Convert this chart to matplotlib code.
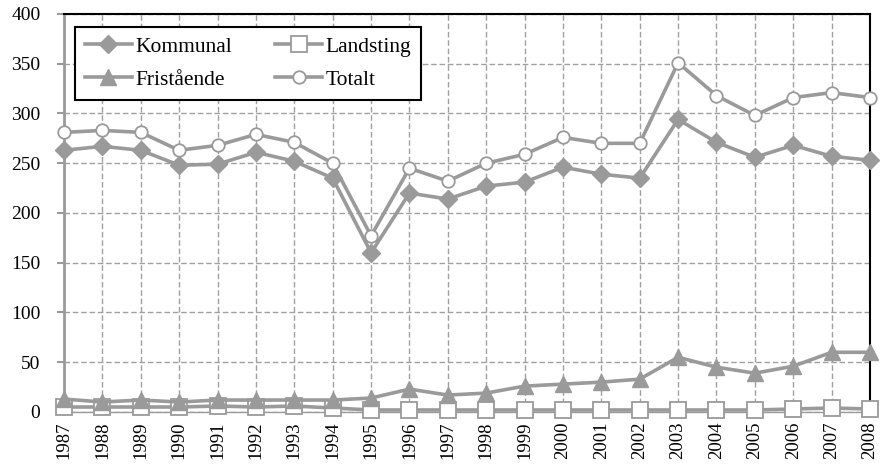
import numpy as np
import matplotlib
matplotlib.use("Agg")
import matplotlib.pyplot as plt

# --------------------------
# Data
# --------------------------

years = list(range(1987, 2009))

kommunal = [263, 267, 263, 248, 249, 261, 252, 235, 160, 220, 214,
            227, 231, 246, 239, 235, 294, 271, 256, 268, 257, 253]
landsting = [5, 5, 5, 5, 6, 5, 6, 4, 2, 2, 2,
             2, 2, 2, 2, 2, 2, 2, 2, 3, 4, 3]
fristaende = [13, 10, 12, 10, 12, 12, 12, 12, 14, 23, 17,
              19, 26, 28, 30, 33, 55, 45, 39, 46, 60, 60]
totalt = [281, 283, 281, 263, 268, 279, 271, 250, 177, 245, 232,
          250, 259, 276, 270, 270, 351, 318, 298, 316, 321, 316]

# --------------------------
# Plot
# --------------------------

plt.rcParams['font.family'] = ['Liberation Serif', 'DejaVu Serif']

gray = '#9a9a9a'

fig = plt.figure(figsize=(8.82, 4.68), dpi=100)
ax = fig.add_axes([0.0726, 0.1197, 0.9138, 0.8504])

common = dict(color=gray, linewidth=2.6, clip_on=False, markersize=9)
h_k, = ax.plot(years, kommunal, marker='D', markerfacecolor=gray,
               markeredgecolor=gray, label='Kommunal', zorder=3, **common)
h_l, = ax.plot(years, landsting, marker='s', markerfacecolor='white',
               markeredgecolor=gray, markeredgewidth=1.3, label='Landsting',
               zorder=3, markersize=11, color=gray, linewidth=2.6, clip_on=False)
h_f, = ax.plot(years, fristaende, marker='^', markerfacecolor=gray,
               markeredgecolor=gray, label='Fristående', zorder=3,
               markersize=11, color=gray, linewidth=2.6, clip_on=False)
h_t, = ax.plot(years, totalt, marker='o', markerfacecolor='white',
               markeredgecolor=gray, markeredgewidth=1.3, label='Totalt',
               zorder=3, **common)

ax.set_xlim(1987, 2008)
ax.set_ylim(0, 400)
ax.set_xticks(years)
ax.set_xticklabels([str(y) for y in years], rotation=90, fontsize=13.5)
ax.set_yticks(np.arange(0, 401, 50))
ax.tick_params(axis='y', labelsize=14, length=5, color=gray, width=1.5, pad=12)
ax.tick_params(axis='x', length=0, pad=7)

ax.grid(True, linestyle=(0, (4, 2)), color='#a0a0a0', linewidth=1.0)
ax.set_axisbelow(True)

ax.spines['top'].set_color('black')
ax.spines['right'].set_color('black')
ax.spines['top'].set_linewidth(1.5)
ax.spines['right'].set_linewidth(1.5)
ax.spines['left'].set_color(gray)
ax.spines['left'].set_linewidth(2)
ax.spines['bottom'].set_color(gray)
ax.spines['bottom'].set_linewidth(1)

leg = ax.legend([h_k, h_f, h_l, h_t], ['Kommunal', 'Fristående', 'Landsting', 'Totalt'],
                ncol=2, loc='upper left', bbox_to_anchor=(0.0136, 0.967),
                fontsize=15.5, frameon=True, fancybox=False, handlelength=2.2,
                columnspacing=2.0, handletextpad=0.15, borderpad=0.45,
                labelspacing=0.6, borderaxespad=0)
leg.get_frame().set_edgecolor('black')
leg.get_frame().set_linewidth(1.5)
leg.get_frame().set_alpha(1)

fig.savefig('out.png', dpi=100)
